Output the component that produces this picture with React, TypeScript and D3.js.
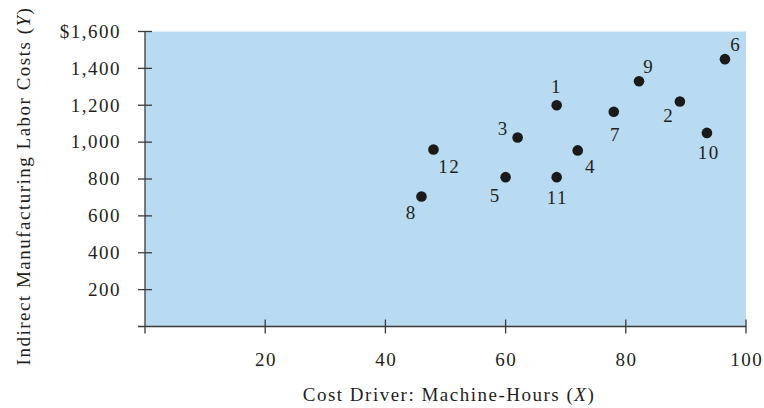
import React from "react";
import * as d3 from "d3";

const weeks = ["1", "2", "3", "4", "5", "6", "7", "8", "9", "10", "11", "12"];
const machineHours = [68.5, 89, 62, 72, 60, 96.5, 78, 46, 82.2, 93.5, 68.5, 48];
const laborCosts = [1200, 1220, 1025, 955, 810, 1450, 1165, 705, 1330, 1050, 810, 960];
const xTicks = [20, 40, 60, 80, 100];
const yTicks = [200, 400, 600, 800, 1000, 1200, 1400, 1600];

// label offsets (layout only)
const labelDx = [-1, -12, -15, 12, -11, 10, 1, -11, 9, 1, 0, 15];
const labelDy = [-19, 14, -9, 16, 19, -14, 23, 16, -15, 20, 21, 17];

const W = 764;
const H = 408;
const FONT = "'Liberation Serif', 'Times New Roman', serif";
const TEXT = "#231f20";
const AXIS = "#3a3a3a";
const FS = 19;

export default function App() {
  const x = d3.scaleLinear().domain([0, 100]).range([145, 746]);
  const y = d3.scaleLinear().domain([0, 1600]).range([326.5, 31.5]);
  const fmt = (v: number) => (v === 1600 ? "$" : "") + d3.format(",")(v);
  const ls = 1.5;

  return (
    <svg
      width={W}
      height={H}
      style={{ position: "absolute", left: 0, top: 0, background: "#fff" }}
      fontFamily={FONT}
    >
      <rect
        x={x(0)}
        y={y(1600)}
        width={x(100) - x(0)}
        height={y(0) - y(1600)}
        fill="#b9dbf2"
      />
      {/* axes */}
      <line x1={x(0)} x2={x(0)} y1={y(1600)} y2={y(0) + 7} stroke={AXIS} strokeWidth={1.3} />
      <line x1={x(0) - 7} x2={x(100)} y1={y(0)} y2={y(0)} stroke={AXIS} strokeWidth={1.3} />
      {yTicks.map((t) => (
        <g key={"y" + t}>
          <line x1={x(0) - 7} x2={x(0) + 7} y1={y(t)} y2={y(t)} stroke={AXIS} strokeWidth={1.3} />
          <text
            x={121}
            y={y(t) + 6.3}
            textAnchor="end"
            fontSize={FS}
            letterSpacing={ls}
            fill={TEXT}
          >
            {fmt(t)}
          </text>
        </g>
      ))}
      {xTicks.map((t) => (
        <g key={"x" + t}>
          <line x1={x(t)} x2={x(t)} y1={y(0) - 7} y2={y(0) + 7} stroke={AXIS} strokeWidth={1.3} />
          <text
            x={x(t) + ls / 2}
            y={366}
            textAnchor="middle"
            fontSize={FS}
            letterSpacing={ls}
            fill={TEXT}
          >
            {t}
          </text>
        </g>
      ))}
      <text
        x={449}
        y={401}
        textAnchor="middle"
        fontSize={FS}
        letterSpacing={ls}
        fill={TEXT}
      >
        Cost Driver: Machine-Hours (<tspan fontStyle="italic">X</tspan>)
      </text>
      <text
        transform="translate(30,186) rotate(-90)"
        textAnchor="middle"
        fontSize={FS}
        letterSpacing={ls}
        fill={TEXT}
      >
        Indirect Manufacturing Labor Costs (<tspan fontStyle="italic">Y</tspan>)
      </text>
      {weeks.map((w, i) => (
        <g key={w}>
          <circle cx={x(machineHours[i])} cy={y(laborCosts[i])} r={5.3} fill="#1a1a1a" />
          <text
            x={x(machineHours[i]) + labelDx[i] + ls / 2}
            y={y(laborCosts[i]) + labelDy[i] + 6.3}
            textAnchor="middle"
            fontSize={FS}
            letterSpacing={ls}
            fill={TEXT}
          >
            {w}
          </text>
        </g>
      ))}
    </svg>
  );
}
